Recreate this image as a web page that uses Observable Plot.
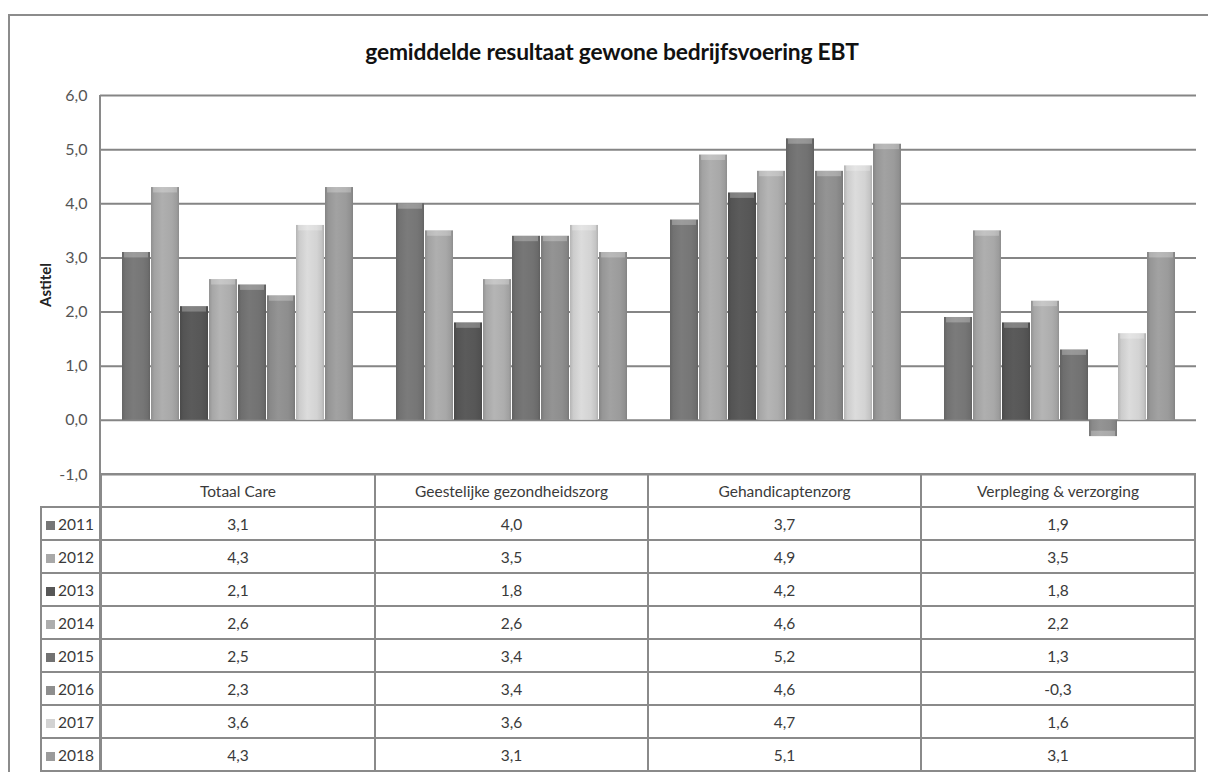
<!DOCTYPE html>
<html>
<head>
<meta charset="utf-8">
<script src="https://cdn.jsdelivr.net/npm/d3@7"></script>
<script src="https://cdn.jsdelivr.net/npm/@observablehq/plot@0.6"></script>
<style>
  html, body { margin: 0; padding: 0; background: #fff; }
  body { width: 1208px; height: 772px; overflow: hidden; position: relative; font-family: Lato, "Open Sans", sans-serif; }
  #frame { position: absolute; left: 8px; top: 14px; width: 1220px; height: 800px; border: 2px solid #8c8c8c; box-sizing: border-box; }
  #title { position: absolute; left: 0; width: 1224px; top: 37px; text-align: center; font-weight: 700; font-size: 22.8px; color: #111; letter-spacing: -0.2px; }
  #ylabel { position: absolute; left: 45px; top: 285px; transform: translate(-50%, -50%) rotate(-90deg); font-weight: 700; font-size: 15px; color: #222; white-space: nowrap; }
  #chart { position: absolute; left: 0; top: 0; }
  #axisline { position: absolute; left: 99px; top: 95px; width: 2px; height: 700px; background: #8a8a8a; }
  table { position: absolute; left: 40px; top: 473px; border-collapse: collapse; table-layout: fixed; font-size: 15.5px; color: #3a3a3a; }
  td { border: 2px solid #8a8a8a; height: 31px; padding: 0; text-align: center; white-space: nowrap; }
  td.blank { border-left: none; border-top: none; border-bottom: 2px solid #8a8a8a; }
  td.lab { text-align: left; padding-left: 4px; }
  .sw { display: inline-block; width: 9px; height: 9px; margin-right: 3px; vertical-align: 0px; }
</style>
</head>
<body>
<div id="frame"></div>
<div id="title">gemiddelde resultaat gewone bedrijfsvoering EBT</div>
<div id="ylabel">Astitel</div>
<div id="chart"></div>
<div id="axisline"></div>
<script>
const categories = ["Totaal Care", "Geestelijke gezondheidszorg", "Gehandicaptenzorg", "Verpleging & verzorging"];
const years = ["2011", "2012", "2013", "2014", "2015", "2016", "2017", "2018"];
const v2011 = [3.1, 4.0, 3.7, 1.9];
const v2012 = [4.3, 3.5, 4.9, 3.5];
const v2013 = [2.1, 1.8, 4.2, 1.8];
const v2014 = [2.6, 2.6, 4.6, 2.2];
const v2015 = [2.5, 3.4, 5.2, 1.3];
const v2016 = [2.3, 3.4, 4.6, -0.3];
const v2017 = [3.6, 3.6, 4.7, 1.6];
const v2018 = [4.3, 3.1, 5.1, 3.1];
const yTicks = [-1, 0, 1, 2, 3, 4, 5, 6];
const yearColors = ["#767676", "#a8a8a8", "#575757", "#adadad", "#727272", "#8e8e8e", "#d3d3d3", "#9b9b9b"];

const series = [v2011, v2012, v2013, v2014, v2015, v2016, v2017, v2018];
const data = [];
years.forEach((yr, i) => categories.forEach((c, j) => data.push({year: yr, cat: c, v: series[i][j]})));
const fmt = d => d.toFixed(1).replace(".", ",");

const chart = Plot.plot({
  width: 1208,
  height: 495,
  marginLeft: 100,
  marginRight: 12,
  marginTop: 95,
  marginBottom: 21,
  style: {fontFamily: "Lato, 'Open Sans', sans-serif", background: "transparent"},
  fx: {domain: categories, padding: 0, axis: null, label: null},
  x: {domain: years, paddingInner: 0.04, paddingOuter: 0.74, axis: null},
  y: {domain: [-1, 6], axis: null},
  color: {domain: years, range: years.map(y => `url(#grad${y})`)},
  marks: [
    Plot.ruleY(yTicks, {stroke: "#858585", strokeWidth: 2}),
    Plot.barY(data, {fx: "cat", x: "year", y: "v", fill: "year"}),
    Plot.barY(data, {fx: "cat", x: "year", y1: d => d.v - Math.sign(d.v) * 0.1, y2: "v", fill: "white", fillOpacity: 0.25, insetLeft: 2, insetRight: 2}),
    Plot.axisY({ticks: yTicks, tickFormat: fmt, tickSize: 0, tickPadding: 13, fontSize: 16, fill: "#555", label: null})
  ]
});

// gradient definitions for the bar fills
const ns = "http://www.w3.org/2000/svg";
const defs = document.createElementNS(ns, "defs");
years.forEach((yr, i) => {
  const base = d3.color(yearColors[i]);
  const g = document.createElementNS(ns, "linearGradient");
  g.setAttribute("id", `grad${yr}`);
  g.setAttribute("x1", "0"); g.setAttribute("x2", "1"); g.setAttribute("y1", "0"); g.setAttribute("y2", "0");
  [[0, base.darker(0.45)], [0.12, base.darker(0.1)], [0.4, base.brighter(0.12)], [0.75, base], [0.92, base.darker(0.2)], [1, base.darker(0.5)]].forEach(([o, c]) => {
    const s = document.createElementNS(ns, "stop");
    s.setAttribute("offset", o);
    s.setAttribute("stop-color", c.formatHex());
    g.appendChild(s);
  });
  defs.appendChild(g);
});
chart.insertBefore(defs, chart.firstChild);
document.getElementById("chart").appendChild(chart);

// data table below the chart
const table = document.createElement("table");
const colgroup = document.createElement("colgroup");
[60, 274, 273, 273, 274].forEach(w => { const c = document.createElement("col"); c.style.width = w + "px"; colgroup.appendChild(c); });
table.appendChild(colgroup);
const head = document.createElement("tr");
const blank = document.createElement("td"); blank.className = "blank"; head.appendChild(blank);
categories.forEach(c => { const td = document.createElement("td"); td.textContent = c; head.appendChild(td); });
table.appendChild(head);
years.forEach((yr, i) => {
  const tr = document.createElement("tr");
  const lab = document.createElement("td"); lab.className = "lab";
  const sw = document.createElement("span"); sw.className = "sw"; sw.style.background = yearColors[i];
  lab.appendChild(sw); lab.appendChild(document.createTextNode(yr));
  tr.appendChild(lab);
  series[i].forEach(v => { const td = document.createElement("td"); td.textContent = fmt(v); tr.appendChild(td); });
  table.appendChild(tr);
});
document.body.appendChild(table);
</script>
</body>
</html>
